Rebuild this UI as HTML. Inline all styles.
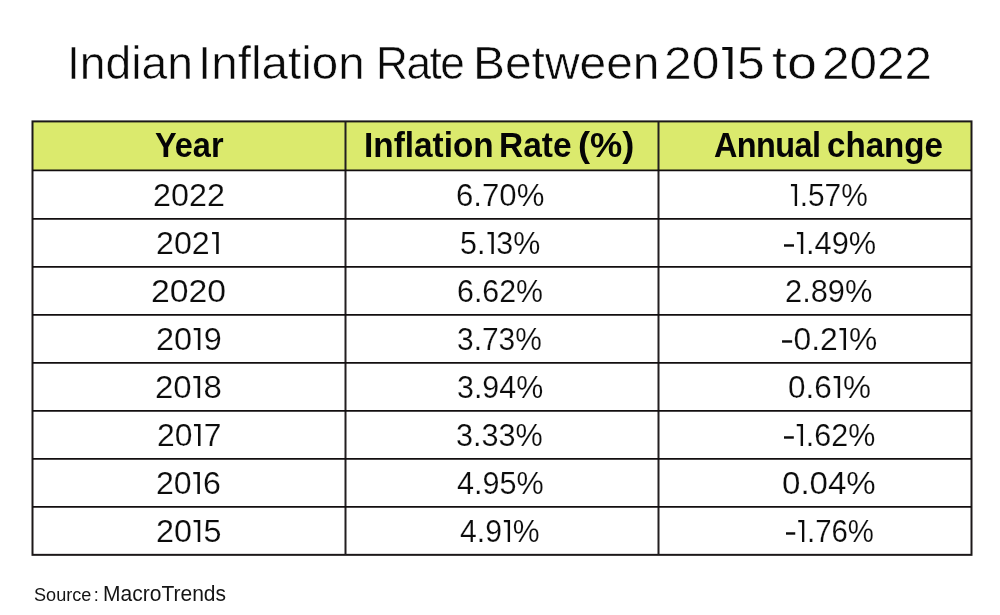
<!DOCTYPE html>
<html><head><meta charset="utf-8"><title>Indian Inflation Rate Between 2015 to 2022</title>
<style>
html,body{margin:0;padding:0;background:#fff;}
body{width:1000px;height:615px;position:relative;overflow:hidden;font-family:"Liberation Sans",sans-serif;}
.grid{position:absolute;left:0;top:0;}
.txt{position:absolute;left:0;top:0;width:1000px;height:615px;will-change:transform;}
.z{font-size:0;line-height:0;}
.m{display:inline-block;vertical-align:baseline;margin:0 .035em 0 .03em;}
.o{display:inline-block;margin:0 .09em 0 .06em;vertical-align:baseline;overflow:visible;}
.x{position:absolute;white-space:nowrap;line-height:1;transform-origin:0 0;}
.t{color:#0a0a0a;-webkit-text-stroke:0.55px #fff;}
.h{font-weight:bold;font-size:34px;color:#050505;}
.c{color:#0c0c0c;-webkit-text-stroke:0.18px #fff;}
.s{color:#151515;}
</style></head><body>
<svg class="grid" width="1000" height="615" viewBox="0 0 1000 615">
<rect x="32.5" y="121.4" width="939" height="49" fill="#dbea6d"/>
<rect x="32.5" y="121.4" width="939" height="433.44" fill="none" stroke="#1c1819" stroke-width="2"/>
<line x1="345.5" y1="121.4" x2="345.5" y2="554.84" stroke="#231f20" stroke-width="2"/>
<line x1="658.5" y1="121.4" x2="658.5" y2="554.84" stroke="#231f20" stroke-width="2"/>
<line x1="32.5" y1="170.4" x2="971.5" y2="170.4" stroke="#120e0f" stroke-width="1.9"/>
<line x1="32.5" y1="218.84" x2="971.5" y2="218.84" stroke="#120e0f" stroke-width="1.9"/>
<line x1="32.5" y1="266.84" x2="971.5" y2="266.84" stroke="#120e0f" stroke-width="1.9"/>
<line x1="32.5" y1="314.84" x2="971.5" y2="314.84" stroke="#120e0f" stroke-width="1.9"/>
<line x1="32.5" y1="362.84" x2="971.5" y2="362.84" stroke="#120e0f" stroke-width="1.9"/>
<line x1="32.5" y1="410.84" x2="971.5" y2="410.84" stroke="#120e0f" stroke-width="1.9"/>
<line x1="32.5" y1="458.84" x2="971.5" y2="458.84" stroke="#120e0f" stroke-width="1.9"/>
<line x1="32.5" y1="506.84" x2="971.5" y2="506.84" stroke="#120e0f" stroke-width="1.9"/>
</svg>
<div class="txt">
<div class="x t" style="left:66.59px;top:39.2px;font-size:47px;transform:scaleX(0.9831);">Indian </div>
<div class="x t" style="left:198.33px;top:39.2px;font-size:47px;transform:scaleX(1.0121);">Inflation </div>
<div class="x t" style="left:375.66px;top:39.2px;font-size:47px;letter-spacing:-1.62px;transform:scaleX(0.94);">Rate </div>
<div class="x t" style="left:472.74px;top:39.2px;font-size:47px;transform:scaleX(1.0193);">Between </div>
<div class="x t" style="left:663.78px;top:39.2px;font-size:47px;transform:scaleX(1.0598);">20<span class="z">1</span><svg class="o" width="9.6" height="32" viewBox="0 0 9.6 32"><path fill="currentColor" d="M0 0H9.6V32H5.80V3.0H0z"/></svg>5 </div>
<div class="x t" style="left:772.21px;top:39.2px;font-size:47px;transform:scaleX(1.1478);">to </div>
<div class="x t" style="left:822.19px;top:39.2px;font-size:47px;transform:scaleX(1.0515);">2022</div>
<div class="x h" style="left:154.77px;top:127.9px;font-size:34.5px;letter-spacing:-0.01px;transform:scaleX(0.94);">Year</div>
<div class="x h" style="left:363.94px;top:127.9px;font-size:34.5px;transform:scaleX(0.9671);">Inflation </div>
<div class="x h" style="left:498.64px;top:127.9px;font-size:34.5px;transform:scaleX(0.9695);">Rate </div>
<div class="x h" style="left:577.78px;top:127.9px;font-size:34.5px;transform:scaleX(1.051);">(%)</div>
<div class="x h" style="left:714.47px;top:127.9px;font-size:34.5px;letter-spacing:-0.61px;transform:scaleX(0.94);">Annual </div>
<div class="x h" style="left:826.67px;top:127.9px;font-size:34.5px;transform:scaleX(0.9607);">change</div>
<div class="x s" style="left:33.56px;top:585.9px;font-size:18px;transform:scaleX(1.0051);">Source </div>
<div class="x s" style="left:93.76px;top:585.9px;font-size:18px;">: </div>
<div class="x s" style="left:103.08px;top:582.9px;font-size:22.2px;transform:scaleX(0.9477);">MacroTrends</div>
<div class="x c" style="left:152.78px;top:180.0px;font-size:31px;transform:scaleX(1.042);">2022</div>
<div class="x c" style="left:455.5px;top:180.0px;font-size:31px;transform:scaleX(1.0049);">6.70%</div>
<div class="x c" style="left:789.1px;top:180.0px;font-size:31px;transform:scaleX(0.9638);"><span class="z">1</span><svg class="o" width="6.4" height="22" viewBox="0 0 6.4 22"><path fill="currentColor" d="M0 0H6.4V22H3.95V2.25H0z"/></svg>.57%</div>
<div class="x c" style="left:155.78px;top:228.0px;font-size:31px;transform:scaleX(1.0385);">202<span class="z">1</span><svg class="o" width="6.4" height="22" viewBox="0 0 6.4 22"><path fill="currentColor" d="M0 0H6.4V22H3.95V2.25H0z"/></svg></div>
<div class="x c" style="left:459.8px;top:228.0px;font-size:31px;transform:scaleX(0.9824);">5.<span class="z">1</span><svg class="o" width="6.4" height="22" viewBox="0 0 6.4 22"><path fill="currentColor" d="M0 0H6.4V22H3.95V2.25H0z"/></svg>3%</div>
<div class="x c" style="left:782.6px;top:228.0px;font-size:31px;transform:scaleX(0.9928);"><span class="z">-</span><svg class="m" width="10.2" height="10" viewBox="0 0 10.2 10"><rect x="0" y="0.25" width="10.2" height="2.45" fill="currentColor"/></svg><span class="z">1</span><svg class="o" width="6.4" height="22" viewBox="0 0 6.4 22"><path fill="currentColor" d="M0 0H6.4V22H3.95V2.25H0z"/></svg>.49%</div>
<div class="x c" style="left:150.72px;top:276.0px;font-size:31px;transform:scaleX(1.0887);">2020</div>
<div class="x c" style="left:456.73px;top:276.0px;font-size:31px;transform:scaleX(0.9789);">6.62%</div>
<div class="x c" style="left:785.04px;top:276.0px;font-size:31px;transform:scaleX(0.994);">2.89%</div>
<div class="x c" style="left:155.77px;top:324.0px;font-size:31px;transform:scaleX(1.0469);">20<span class="z">1</span><svg class="o" width="6.4" height="22" viewBox="0 0 6.4 22"><path fill="currentColor" d="M0 0H6.4V22H3.95V2.25H0z"/></svg>9</div>
<div class="x c" style="left:457.08px;top:324.0px;font-size:31px;transform:scaleX(0.9646);">3.73%</div>
<div class="x c" style="left:780.95px;top:324.0px;font-size:31px;transform:scaleX(1.0257);"><span class="z">-</span><svg class="m" width="10.2" height="10" viewBox="0 0 10.2 10"><rect x="0" y="0.25" width="10.2" height="2.45" fill="currentColor"/></svg>0.2<span class="z">1</span><svg class="o" width="6.4" height="22" viewBox="0 0 6.4 22"><path fill="currentColor" d="M0 0H6.4V22H3.95V2.25H0z"/></svg>%</div>
<div class="x c" style="left:155.05px;top:372.0px;font-size:31px;transform:scaleX(1.0649);">20<span class="z">1</span><svg class="o" width="6.4" height="22" viewBox="0 0 6.4 22"><path fill="currentColor" d="M0 0H6.4V22H3.95V2.25H0z"/></svg>8</div>
<div class="x c" style="left:456.65px;top:372.0px;font-size:31px;transform:scaleX(0.9809);">3.94%</div>
<div class="x c" style="left:787.54px;top:372.0px;font-size:31px;transform:scaleX(1.0144);">0.6<span class="z">1</span><svg class="o" width="6.4" height="22" viewBox="0 0 6.4 22"><path fill="currentColor" d="M0 0H6.4V22H3.95V2.25H0z"/></svg>%</div>
<div class="x c" style="left:156.99px;top:420.0px;font-size:31px;transform:scaleX(1.0265);">20<span class="z">1</span><svg class="o" width="6.4" height="22" viewBox="0 0 6.4 22"><path fill="currentColor" d="M0 0H6.4V22H3.95V2.25H0z"/></svg>7</div>
<div class="x c" style="left:456.25px;top:420.0px;font-size:31px;transform:scaleX(0.988);">3.33%</div>
<div class="x c" style="left:782.9px;top:420.0px;font-size:31px;transform:scaleX(0.9831);"><span class="z">-</span><svg class="m" width="10.2" height="10" viewBox="0 0 10.2 10"><rect x="0" y="0.25" width="10.2" height="2.45" fill="currentColor"/></svg><span class="z">1</span><svg class="o" width="6.4" height="22" viewBox="0 0 6.4 22"><path fill="currentColor" d="M0 0H6.4V22H3.95V2.25H0z"/></svg>.62%</div>
<div class="x c" style="left:156.29px;top:468.0px;font-size:31px;transform:scaleX(1.0352);">20<span class="z">1</span><svg class="o" width="6.4" height="22" viewBox="0 0 6.4 22"><path fill="currentColor" d="M0 0H6.4V22H3.95V2.25H0z"/></svg>6</div>
<div class="x c" style="left:456.72px;top:468.0px;font-size:31px;transform:scaleX(0.9873);">4.95%</div>
<div class="x c" style="left:782.07px;top:468.0px;font-size:31px;transform:scaleX(1.066);">0.04%</div>
<div class="x c" style="left:155.78px;top:516.0px;font-size:31px;transform:scaleX(1.0439);">20<span class="z">1</span><svg class="o" width="6.4" height="22" viewBox="0 0 6.4 22"><path fill="currentColor" d="M0 0H6.4V22H3.95V2.25H0z"/></svg>5</div>
<div class="x c" style="left:460.23px;top:516.0px;font-size:31px;transform:scaleX(0.9741);">4.9<span class="z">1</span><svg class="o" width="6.4" height="22" viewBox="0 0 6.4 22"><path fill="currentColor" d="M0 0H6.4V22H3.95V2.25H0z"/></svg>%</div>
<div class="x c" style="left:784.6px;top:516.0px;font-size:31px;transform:scaleX(0.9472);"><span class="z">-</span><svg class="m" width="10.2" height="10" viewBox="0 0 10.2 10"><rect x="0" y="0.25" width="10.2" height="2.45" fill="currentColor"/></svg><span class="z">1</span><svg class="o" width="6.4" height="22" viewBox="0 0 6.4 22"><path fill="currentColor" d="M0 0H6.4V22H3.95V2.25H0z"/></svg>.76%</div>
</div>
</body></html>
